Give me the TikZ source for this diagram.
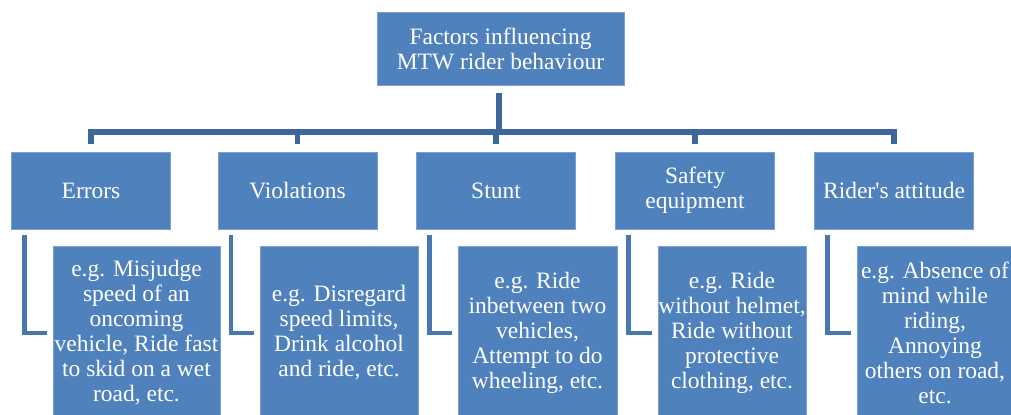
\documentclass[tikz,border=0pt]{standalone}
\usepackage{fontspec}
\setmainfont{Liberation Serif}
\usepackage{xcolor}
\usepackage{tikz}
\usetikzlibrary{positioning,calc}

\definecolor{boxblue}{RGB}{79,129,189}
\definecolor{boxedge}{RGB}{122,160,211}
\definecolor{trunkblue}{RGB}{62,104,156}
\definecolor{branchblue}{RGB}{72,118,176}

\begin{document}
\begin{tikzpicture}[x=0.025cm, y=-0.025cm,
    box/.style={rectangle, draw=boxedge, line width=0.5pt, fill=boxblue, text=white,
        align=center, inner sep=0pt, font=\fontsize{16.7}{17.8}\selectfont},
    factor/.style={box, minimum width=3.975cm, minimum height=1.925cm},
    example/.style={box, minimum height=4.35cm},
    trunk/.style={draw=trunkblue, line width=4.2pt},
    branch/.style={draw=branchblue, line width=3.2pt}]

    \useasboundingbox (0,0) rectangle (1011,414);

    \node[box, minimum width=6.175cm, minimum height=1.825cm] (top) at (500.5,48.5)
        {Factors influencing\\MTW rider behaviour};

    % second level
    \node[factor] (err) at (91,190.5) {Errors};
    \node[factor] (vio) at (297.5,190.5) {Violations};
    \node[factor] (stu) at (496,190.5) {Stunt};
    \node[factor] (saf) at (695,190.5) {Safety\\equipment};
    \node[factor] (rid) at (894,190.5) {Rider\textquotesingle s attitude};

    % examples
    \node[example, minimum width=4.175cm] (errex) at (136.5,333)
        {e.g. Misjudge\\speed of an\\oncoming\\vehicle, Ride fast\\to skid on a wet\\road, etc.};
    \node[example, minimum width=3.95cm] (vioex) at (339,333)
        {e.g. Disregard\\speed limits,\\Drink alcohol\\and ride, etc.};
    \node[example, minimum width=3.975cm] (stuex) at (537.5,333)
        {e.g. Ride\\inbetween two\\vehicles,\\Attempt to do\\wheeling, etc.};
    \node[example, minimum width=3.7cm] (safex) at (732,333)
        {e.g. Ride\\without helmet,\\Ride without\\protective\\clothing, etc.};
    \node[example, minimum width=3.9cm] (ridex) at (935,333)
        {e.g. Absence of\\mind while\\riding,\\Annoying\\others on road,\\etc.};

    \coordinate (bar) at (499,132);
    \draw[trunk, shorten <=0.2cm] (top.south -| bar) -- (bar);
    \foreach \n in {err,vio,stu,saf,rid}
        \draw[trunk, shorten >=0.2cm] (bar) -| (\n.north);

    \foreach \n in {err,vio,stu,saf,rid}
        \draw[branch, shorten <=0.13cm, shorten >=0.13cm]
            ([xshift=0.33cm]\n.south west) |- (\n ex.west);
\end{tikzpicture}
\end{document}
